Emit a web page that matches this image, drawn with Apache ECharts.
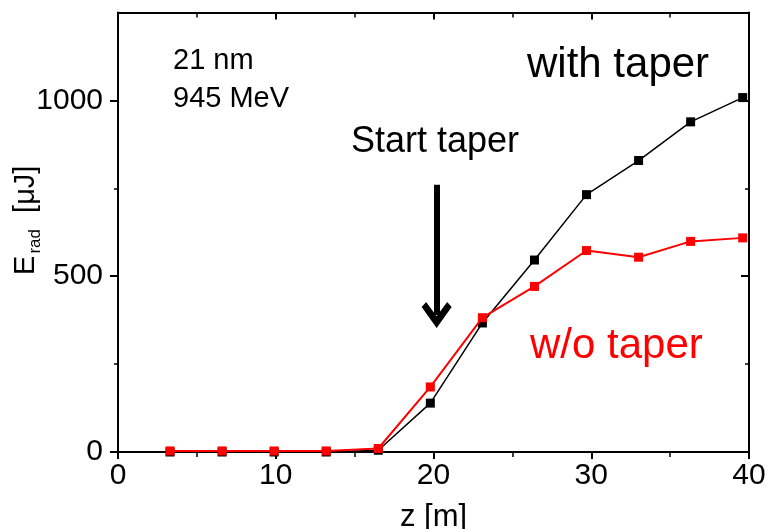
<!DOCTYPE html>
<html>
<head>
<meta charset="utf-8">
<script src="https://cdn.jsdelivr.net/npm/echarts@6/dist/echarts.min.js"></script>
<style>
html,body{margin:0;padding:0;background:#fff;}
#chart{width:769px;height:529px;}
</style>
</head>
<body>
<div id="chart"></div>
<script>
// ---- data ----
const zPositions = [3.3, 6.6, 9.9, 13.2, 16.5, 19.8, 23.1, 26.4, 29.7, 33.0, 36.3, 39.6];
const withTaper = [0, 0, 0, 0, 5, 139, 367, 546, 732, 829, 939, 1008];
const withoutTaper = [3, 3, 3, 3, 10, 185, 382, 471, 573, 554, 599, 609];
const yMajorTicks = [0, 500, 1000];
const yMinorTicks = [250, 750];
const arrowStart = [20.2, 760];
const arrowEnd = [20.2, 390];

const FONT = '"Liberation Sans", Arial, sans-serif';
const pairs = (xs, ys) => xs.map((x, i) => [x, ys[i]]);

const chart = echarts.init(document.getElementById('chart'), null, {renderer: 'canvas'});

const axisLineStyle = {color: '#000', width: 2};
const chevron = 'path://M50,0 L100,58 L85,72 L50,32 L15,72 L0,58 Z';
const plainNum = v => String(v);

const option = {
  animation: false,
  backgroundColor: '#fff',
  grid: {left: 118, right: 20, top: 12.5, bottom: 77, containLabel: false, outerBoundsMode: 'none'},
  xAxis: [
    {
      type: 'value', position: 'bottom', min: 0, max: 40, interval: 10,
      axisLine: {show: true, onZero: false, lineStyle: axisLineStyle},
      axisTick: {show: true, inside: false, length: 7, lineStyle: {color: '#000', width: 2}},
      minorTick: {show: true, splitNumber: 2, length: 5, lineStyle: {color: '#000', width: 1.5}},
      splitLine: {show: false},
      axisLabel: {fontFamily: FONT, fontSize: 30, color: '#000', margin: 9, formatter: plainNum},
      name: 'z [m]', nameLocation: 'middle', nameGap: 50, nameMoveOverlap: false,
      nameTextStyle: {fontFamily: FONT, fontSize: 31, color: '#000'}
    },
    {
      type: 'value', position: 'top', min: 0, max: 40, interval: 10,
      axisLine: {show: true, onZero: false, lineStyle: axisLineStyle},
      axisTick: {show: true, inside: true, length: 7, lineStyle: {color: '#000', width: 2}},
      minorTick: {show: true, splitNumber: 2, length: 5, lineStyle: {color: '#000', width: 1.5}},
      splitLine: {show: false},
      axisLabel: {show: false}
    }
  ],
  yAxis: [
    {
      type: 'value', position: 'left', min: 0, max: 1250,
      axisLine: {show: true, onZero: false, lineStyle: axisLineStyle},
      axisTick: {show: true, inside: false, length: 8, customValues: yMajorTicks, lineStyle: {color: '#000', width: 2}},
      splitLine: {show: false},
      axisLabel: {fontFamily: FONT, fontSize: 30, color: '#000', margin: 15, customValues: yMajorTicks, formatter: plainNum},
      name: '{e|E}{s|rad}{e|  [μJ]}', nameLocation: 'middle', nameGap: 74, nameRotate: 90, nameMoveOverlap: false,
      nameTextStyle: {
        fontFamily: FONT, color: '#000', padding: [0, 0, 0, 24],
        rich: {
          e: {fontFamily: FONT, fontSize: 29, color: '#000', lineHeight: 36},
          s: {fontFamily: FONT, fontSize: 17, color: '#000', verticalAlign: 'bottom', lineHeight: 36, padding: [14, 0, 0, 2]}
        }
      }
    },
    {
      type: 'value', position: 'left', min: 0, max: 1250,
      axisLine: {show: false, onZero: false},
      axisTick: {show: true, inside: false, length: 4, customValues: yMinorTicks, lineStyle: {color: '#000', width: 1.5}},
      splitLine: {show: false},
      axisLabel: {show: false}
    },
    {
      type: 'value', position: 'right', min: 0, max: 1250,
      axisLine: {show: true, onZero: false, lineStyle: axisLineStyle},
      axisTick: {show: true, inside: true, length: 8, customValues: yMajorTicks, lineStyle: {color: '#000', width: 2}},
      splitLine: {show: false},
      axisLabel: {show: false}
    },
    {
      type: 'value', position: 'right', min: 0, max: 1250,
      axisLine: {show: false, onZero: false},
      axisTick: {show: true, inside: true, length: 4, customValues: yMinorTicks, lineStyle: {color: '#000', width: 1.5}},
      splitLine: {show: false},
      axisLabel: {show: false}
    }
  ],
  series: [
    {
      name: 'with taper', type: 'line', xAxisIndex: 0, yAxisIndex: 0,
      data: pairs(zPositions, withTaper),
      symbol: 'rect', symbolSize: 9, showAllSymbol: true,
      lineStyle: {color: '#000', width: 1.5},
      itemStyle: {color: '#000'},
      z: 3,
      markLine: {
        silent: true, animation: false,
        symbol: ['none', chevron], symbolSize: [30, 26],
        label: {show: false},
        lineStyle: {color: '#000', width: 6, type: 'solid'},
        data: [[{coord: arrowStart}, {coord: arrowEnd}]]
      }
    },
    {
      name: 'w/o taper', type: 'line', xAxisIndex: 0, yAxisIndex: 0,
      data: pairs(zPositions, withoutTaper),
      symbol: 'rect', symbolSize: 9, showAllSymbol: true,
      lineStyle: {color: '#ff0000', width: 2},
      itemStyle: {color: '#ff0000'},
      z: 4
    }
  ],
  graphic: [
    {type: 'text', left: 173, top: 46, style: {text: '21 nm', font: '29px ' + FONT, fill: '#000'}},
    {type: 'text', left: 173, top: 84, style: {text: '945 MeV', font: '29px ' + FONT, fill: '#000'}},
    {type: 'text', left: 351, top: 124, style: {text: 'Start taper', font: '36px ' + FONT, fill: '#000'}},
    {type: 'text', left: 527, top: 44, style: {text: 'with taper', font: '42px ' + FONT, fill: '#000'}},
    {type: 'text', left: 530, top: 325, style: {text: 'w/o taper', font: '42px ' + FONT, fill: '#ff0000'}}
  ]
};
chart.setOption(option);
</script>
</body>
</html>
